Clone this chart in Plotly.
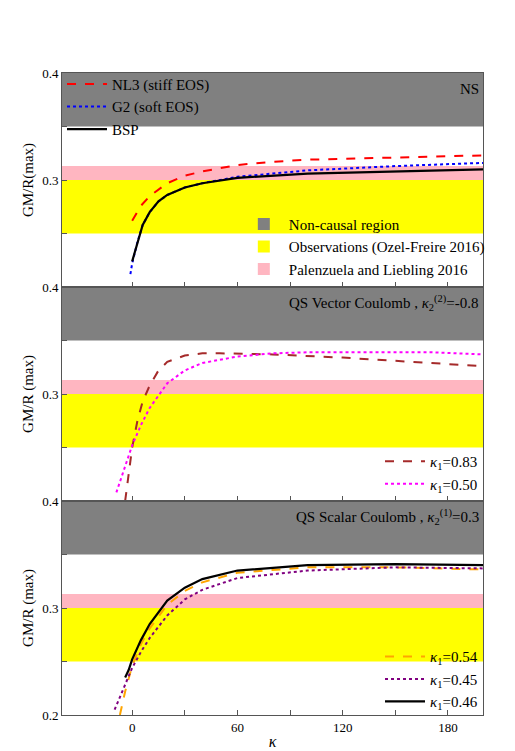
import plotly.graph_objects as go
from plotly.subplots import make_subplots

# Panel 1 (NS)
nl3_x = [0, 5, 10, 20, 30, 40, 60, 80, 100, 150, 200]
nl3_y = [0.262, 0.276, 0.285, 0.297, 0.304, 0.308, 0.314, 0.317, 0.319, 0.321, 0.323]
g2_x = [-1, 0, 3, 6, 10, 15, 20, 30, 40, 60, 100, 150, 200]
g2_y = [0.212, 0.222, 0.242, 0.258, 0.270, 0.280, 0.286, 0.293, 0.297, 0.303, 0.309, 0.313, 0.316]
bsp_x = [0, 3, 6, 10, 15, 20, 30, 40, 60, 100, 150, 200]
bsp_y = [0.224, 0.242, 0.258, 0.270, 0.280, 0.286, 0.293, 0.297, 0.302, 0.306, 0.308, 0.310]

# Panel 2 (QS Vector Coulomb)
k083_x = [-4, -2, 0, 3, 6, 10, 15, 20, 30, 40, 50, 80, 120, 160, 200]
k083_y = [0.200, 0.225, 0.250, 0.275, 0.293, 0.308, 0.322, 0.330, 0.336, 0.338, 0.338, 0.337, 0.334, 0.330, 0.326]
k050_x = [-9, -5, 0, 5, 10, 20, 30, 40, 60, 80, 100, 140, 170, 200]
k050_y = [0.208, 0.228, 0.252, 0.271, 0.287, 0.310, 0.322, 0.329, 0.335, 0.338, 0.339, 0.339, 0.339, 0.337]

# Panel 3 (QS Scalar Coulomb)
k054_x = [-7, -4, 0, 5, 10, 20, 30, 40, 60, 100, 150, 200]
k054_y = [0.200, 0.222, 0.246, 0.266, 0.281, 0.303, 0.316, 0.324, 0.333, 0.338, 0.338, 0.336]
k045_x = [-10, -5, 0, 5, 10, 20, 30, 40, 60, 100, 150, 200]
k045_y = [0.205, 0.224, 0.244, 0.259, 0.272, 0.293, 0.308, 0.317, 0.328, 0.335, 0.338, 0.337]
k046_x = [-4, -2, 0, 5, 10, 20, 30, 40, 60, 100, 150, 200]
k046_y = [0.235, 0.242, 0.252, 0.270, 0.285, 0.307, 0.319, 0.327, 0.335, 0.340, 0.341, 0.340]

bands = [(0.35, 0.4, "#808080", "Non-causal region"),
         (0.25, 0.30, "#ffff00", "Observations (Ozel-Freire 2016)"),
         (0.30, 0.313, "#ffb6c1", "Palenzuela and Liebling 2016")]

FONT = "Liberation Serif"
fig = make_subplots(rows=3, cols=1, shared_xaxes=True, vertical_spacing=0)

for r in (1, 2, 3):
    for y0, y1, c, _ in bands:
        fig.add_shape(type="rect", xref="x domain", yref="y", x0=0, x1=1, y0=y0, y1=y1,
                      fillcolor=c, line_width=0, layer="below", row=r, col=1)

def line(x, y, name, color, dash, width, row, legend):
    fig.add_trace(go.Scatter(x=x, y=y, mode="lines", name=name, legend=legend,
                             line=dict(color=color, dash=dash, width=width)), row=row, col=1)

line(nl3_x, nl3_y, "NL3 (stiff EOS)", "red", "dash", 2, 1, "legend")
line(g2_x, g2_y, "G2 (soft EOS)", "blue", "dot", 2, 1, "legend")
line(bsp_x, bsp_y, "BSP", "black", "solid", 2.2, 1, "legend")
for y0, y1, c, n in bands:
    fig.add_trace(go.Scatter(x=[None], y=[None], mode="markers", name=n, legend="legend2",
                             marker=dict(symbol="square", size=12, color=c)), row=1, col=1)
line(k083_x, k083_y, "<i>κ</i><sub>1</sub>=0.83", "#a52a2a", "dash", 2, 2, "legend3")
line(k050_x, k050_y, "<i>κ</i><sub>1</sub>=0.50", "magenta", "dot", 2, 2, "legend3")
line(k054_x, k054_y, "<i>κ</i><sub>1</sub>=0.54", "orange", "dash", 2, 3, "legend4")
line(k045_x, k045_y, "<i>κ</i><sub>1</sub>=0.45", "purple", "dot", 2, 3, "legend4")
line(k046_x, k046_y, "<i>κ</i><sub>1</sub>=0.46", "black", "solid", 2.2, 3, "legend4")

ax = dict(showline=True, linecolor="#555", mirror=True, ticks="inside", ticklen=5,
          tickcolor="#555", showgrid=False, zeroline=False, tickfont=dict(size=13))
for r in (1, 2, 3):
    fig.update_xaxes(range=[-40, 200], tickvals=[0, 30, 60, 90, 120, 150, 180],
                     ticktext=["0", "", "60", "", "120", "", "180"], row=r, col=1, **ax)
    fig.update_yaxes(range=[0.2, 0.4], tickvals=[0.25, 0.3, 0.35, 0.4] if r < 3 else [0.2, 0.25, 0.3, 0.35, 0.4],
                     ticktext=["", "0.3", "", "0.4"] if r < 3 else ["0.2", "", "0.3", "", "0.4"],
                     title=dict(text="GM/R (max)" if r > 1 else "GM/R(max)", standoff=4, font=dict(size=15)),
                     row=r, col=1, **ax)
fig.update_xaxes(title=dict(text="<i>κ</i>", standoff=2, font=dict(size=16)), row=3, col=1)

leg = dict(bgcolor="rgba(0,0,0,0)", font=dict(size=15, family=FONT, color="black"),
           tracegroupgap=0, itemwidth=40)
fig.update_layout(
    width=515, height=751, margin=dict(l=54, r=40, t=65, b=44),
    plot_bgcolor="white", paper_bgcolor="white",
    font=dict(family=FONT, size=13, color="black"),
    legend=dict(x=0.0, y=1.008, xanchor="left", yanchor="top", **leg),
    legend2=dict(x=0.42, y=0.79, xanchor="left", yanchor="top", **leg),
    legend3=dict(x=1.0, y=0.335, xanchor="right", yanchor="bottom", **leg),
    legend4=dict(x=1.0, y=-0.005, xanchor="right", yanchor="bottom", **leg),
    annotations=[
        dict(text="NS", xref="paper", yref="paper", x=0.995, y=0.99, xanchor="right", yanchor="top",
             showarrow=False, font=dict(size=15)),
        dict(text="QS Vector Coulomb , <i>κ</i><sub>2</sub><sup>(2)</sup>=-0.8", xref="paper", yref="paper",
             x=0.995, y=0.66, xanchor="right", yanchor="top", showarrow=False, font=dict(size=15)),
        dict(text="QS Scalar Coulomb , <i>κ</i><sub>2</sub><sup>(1)</sup>=0.3", xref="paper", yref="paper",
             x=0.995, y=0.327, xanchor="right", yanchor="top", showarrow=False, font=dict(size=15)),
    ],
)
fig.write_html("out.html")
